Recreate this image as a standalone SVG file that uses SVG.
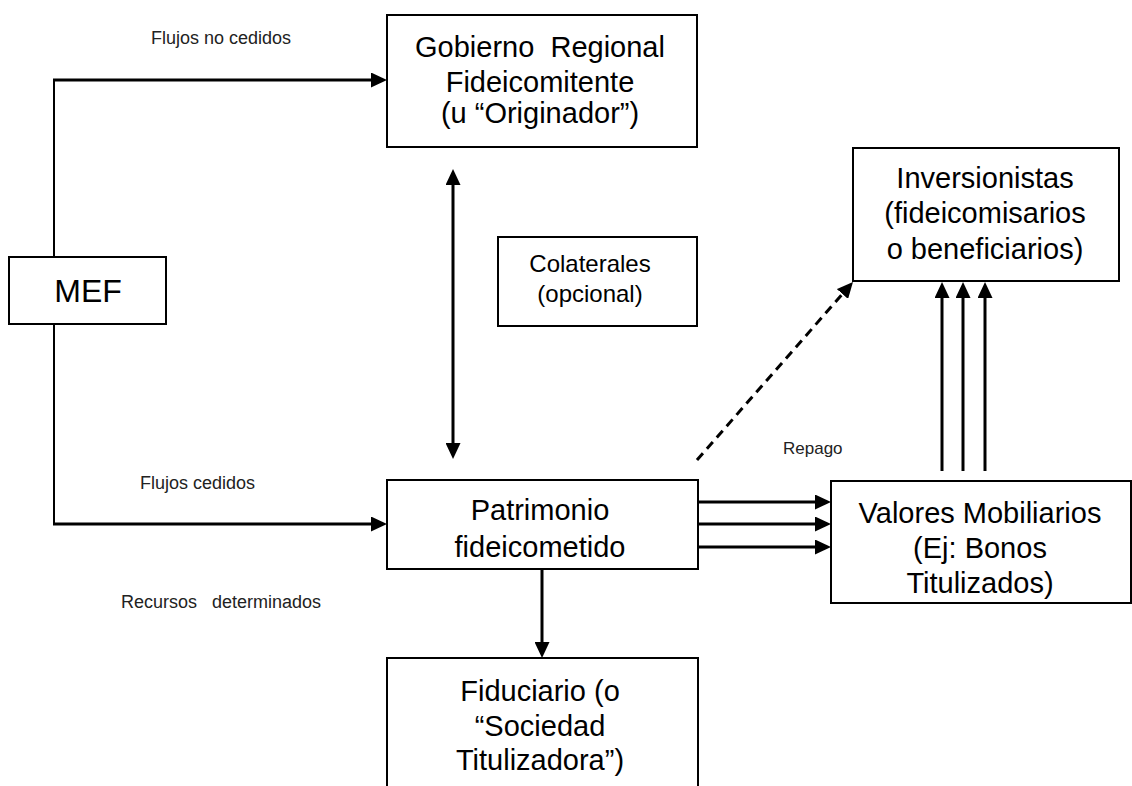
<svg xmlns="http://www.w3.org/2000/svg" width="1132" height="786" viewBox="0 0 1132 786">
  <defs>
    <style>
      .box { fill: #ffffff; stroke: #000000; stroke-width: 2; }
      .big { font-family: "Liberation Sans", Arial, sans-serif; font-size: 29px; fill: #000000; text-anchor: middle; }
      .mid { font-family: "Liberation Sans", Arial, sans-serif; font-size: 24px; fill: #000000; text-anchor: middle; }
      .mef { font-family: "Liberation Sans", Arial, sans-serif; font-size: 32px; fill: #000000; text-anchor: middle; }
      .lbl { font-family: "Liberation Sans", Arial, sans-serif; font-size: 18px; fill: #222222; white-space: pre; }
      .thin { fill: none; stroke: #000000; stroke-width: 2; }
      .arr { fill: none; stroke: #000000; stroke-width: 3; marker-end: url(#ah); }
      .dash { fill: none; stroke: #000000; stroke-width: 3; stroke-dasharray: 9 6; marker-end: url(#ah); }
    </style>
    <marker id="ah" viewBox="0 0 16 15" markerWidth="16" markerHeight="15" refX="8" refY="7.5" orient="auto-start-reverse" markerUnits="userSpaceOnUse">
      <path d="M0,0 L16,7.5 L0,15 z" fill="#000000"/>
    </marker>
  </defs>
  <rect width="1132" height="786" fill="#ffffff"/>

  <g id="connectors">
    <path class="thin" d="M54,257 L54,79"/>
    <path class="arr" d="M53,80 L379,80"/>
    <path class="thin" d="M54,324 L54,525"/>
    <path class="arr" d="M53,524 L379,524"/>
    <path class="arr" style="marker-start:url(#ah)" d="M453,177 L453,451"/>
    <path class="arr" d="M542,569 L542,650"/>
    <path class="arr" d="M698,502 L823,502"/>
    <path class="arr" d="M698,524 L823,524"/>
    <path class="arr" d="M698,547 L823,547"/>
    <path class="arr" d="M942,471 L942,290"/>
    <path class="arr" d="M963,471 L963,290"/>
    <path class="arr" d="M985,471 L985,290"/>
    <path class="dash" d="M697,460 L847.7,288"/>
  </g>

  <g id="labels">
    <text class="lbl" x="151" y="44">Flujos no cedidos</text>
    <text class="lbl" x="140" y="489">Flujos cedidos</text>
    <text class="lbl" x="121" y="608" xml:space="preserve">Recursos   determinados</text>
    <text class="lbl" x="783" y="454" style="font-size:17px">Repago</text>
  </g>

  <g id="node-mef">
    <rect class="box" x="9" y="257" width="157" height="67"/>
    <text class="mef" x="88" y="302">MEF</text>
  </g>

  <g id="node-gobierno">
    <rect class="box" x="387" y="15" width="310" height="132"/>
    <text class="big" x="540" y="57" xml:space="preserve">Gobierno  Regional</text>
    <text class="big" x="540" y="92">Fideicomitente</text>
    <text class="big" x="540" y="123">(u “Originador”)</text>
  </g>

  <g id="node-colaterales">
    <rect class="box" x="498" y="237" width="199" height="89"/>
    <text class="mid" x="590" y="272">Colaterales</text>
    <text class="mid" x="590" y="302">(opcional)</text>
  </g>

  <g id="node-inversionistas">
    <rect class="box" x="853" y="148" width="266" height="133"/>
    <text class="big" x="985" y="188">Inversionistas</text>
    <text class="big" x="985" y="223">(fideicomisarios</text>
    <text class="big" x="985" y="259">o beneficiarios)</text>
  </g>

  <g id="node-patrimonio">
    <rect class="box" x="387" y="480" width="311" height="89"/>
    <text class="big" x="540" y="520">Patrimonio</text>
    <text class="big" x="540" y="557">fideicometido</text>
  </g>

  <g id="node-valores">
    <rect class="box" x="831" y="481" width="300" height="122"/>
    <text class="big" x="980" y="523">Valores Mobiliarios</text>
    <text class="big" x="980" y="558">(Ej: Bonos</text>
    <text class="big" x="980" y="593">Titulizados)</text>
  </g>

  <g id="node-fiduciario">
    <rect class="box" x="387" y="658" width="311" height="140"/>
    <text class="big" x="540" y="701">Fiduciario (o</text>
    <text class="big" x="540" y="736">“Sociedad</text>
    <text class="big" x="540" y="770">Titulizadora”)</text>
  </g>
</svg>
